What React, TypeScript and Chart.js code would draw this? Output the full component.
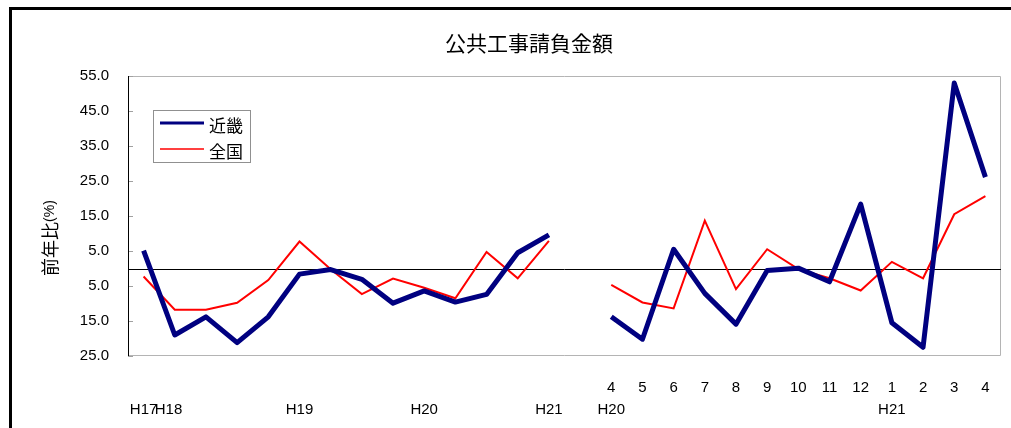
import React, { useEffect, useRef } from "react";
import { Chart, registerables } from "chart.js";

Chart.register(...registerables);

// Category rows (two-line x labels)
const monthRow = ["", "", "", "", "", "", "", "", "", "", "", "", "", "", "", "4", "5", "6", "7", "8", "9", "10", "11", "12", "1", "2", "3", "4"];
const yearRow = ["H17", "H18   ", "", "", "", "H19", "", "", "", "H20", "", "", "", "H21", "", "H20", "", "", "", "", "", "", "", "", "H21", "", "", ""];

// Series values (前年比 %)
const kinki = [5.1, -19.0, -13.8, -21.2, -13.8, -1.6, -0.3, -3.1, -9.9, -6.4, -9.6, -7.4, 4.5, 9.6, null, -13.8, -20.2, 5.5, -7.1, -15.9, -0.6, 0.1, -3.8, 18.4, -15.5, -22.5, 53.0, 26.1];
const zenkoku = [-2.3, -11.8, -11.8, -9.8, -3.3, 7.7, -0.2, -7.3, -2.9, -5.5, -8.5, 4.7, -2.8, 7.9, null, -4.7, -9.7, -11.4, 13.7, -5.9, 5.5, -0.2, -2.8, -6.3, 1.9, -2.8, 15.5, 20.7];

// Y tick values
const yTicks = [-25, -15, -5, 5, 15, 25, 35, 45, 55];

const seriesNames = ["近畿", "全国"];
const seriesColors = ["#000080", "#FF0000"];
const titleText = "公共工事請負金額";
const yTitleMain = "前年比";
const yTitleUnit = "(%)";

const CJK = '"Noto Sans CJK JP", "Noto Sans CJK SC", sans-serif';
const LATIN = '"Liberation Sans", Arial, sans-serif';

const decorPlugin = {
  id: "decor",
  beforeDraw(chart: any) {
    const { ctx } = chart;
    ctx.save();
    ctx.fillStyle = "#000";
    ctx.fillRect(9, 7, 3, 430);
    ctx.fillRect(9, 7, 1010, 3);
    ctx.restore();
  },
  beforeDatasetsDraw(chart: any) {
    const { ctx, chartArea: a, scales } = chart;
    const y = scales.y;
    ctx.save();
    ctx.lineWidth = 1;
    ctx.strokeStyle = "#b4b4b4";
    ctx.beginPath();
    ctx.moveTo(a.left, a.top + 0.5);
    ctx.lineTo(Math.round(a.right) - 0.5, a.top + 0.5);
    ctx.lineTo(Math.round(a.right) - 0.5, Math.round(a.bottom) - 0.5);
    ctx.lineTo(a.left, Math.round(a.bottom) - 0.5);
    ctx.stroke();
    // small inner ticks
    ctx.strokeStyle = "#a0a0a0";
    yTicks.forEach((v) => {
      const py = Math.round(y.getPixelForValue(v)) + 0.5;
      ctx.beginPath();
      ctx.moveTo(a.left, py);
      ctx.lineTo(a.left + 5, py);
      ctx.stroke();
    });
    // left axis
    ctx.strokeStyle = "#000";
    ctx.beginPath();
    ctx.moveTo(Math.round(a.left) + 0.5, a.top);
    ctx.lineTo(Math.round(a.left) + 0.5, a.bottom);
    ctx.stroke();
    // zero line
    const zy = Math.round(y.getPixelForValue(0)) + 0.5;
    ctx.beginPath();
    ctx.moveTo(a.left, zy);
    ctx.lineTo(a.right, zy);
    ctx.stroke();
    ctx.restore();
  },
  afterDraw(chart: any) {
    const { ctx } = chart;
    ctx.save();
    // title
    ctx.fillStyle = "#000";
    ctx.font = `21px ${CJK}`;
    ctx.textAlign = "center";
    ctx.textBaseline = "middle";
    ctx.fillText(titleText, 529, 43);

    // y axis title (rotated)
    ctx.save();
    ctx.translate(50, 238);
    ctx.rotate(-Math.PI / 2);
    ctx.font = `18px ${CJK}`;
    const w1 = ctx.measureText(yTitleMain).width;
    ctx.font = `14px ${LATIN}`;
    const w2 = ctx.measureText(yTitleUnit).width;
    const start = -(w1 + w2) / 2;
    ctx.textAlign = "left";
    ctx.font = `18px ${CJK}`;
    ctx.fillText(yTitleMain, start, 0);
    ctx.font = `14px ${LATIN}`;
    ctx.fillText(yTitleUnit, start + w1, 0);
    ctx.restore();

    // legend
    ctx.strokeStyle = "#909090";
    ctx.lineWidth = 1;
    ctx.strokeRect(153.5, 110.5, 97, 52);
    const rows = [
      { y: 123, w: 3, t: 126 },
      { y: 149, w: 1.5, t: 151.5 },
    ];
    rows.forEach((r, i) => {
      ctx.strokeStyle = seriesColors[i];
      ctx.lineWidth = r.w;
      ctx.beginPath();
      ctx.moveTo(160, r.y);
      ctx.lineTo(204, r.y);
      ctx.stroke();
      ctx.fillStyle = "#000";
      ctx.font = `17px ${CJK}`;
      ctx.textAlign = "left";
      ctx.textBaseline = "middle";
      ctx.fillText(seriesNames[i], 209, r.t);
    });
    ctx.restore();
  },
};

export default function App() {
  const ref = useRef<HTMLCanvasElement | null>(null);
  useEffect(() => {
    if (!ref.current) return;
    const labels = monthRow.map((m, i) => [m, yearRow[i]]);
    const chart = new Chart(ref.current, {
      type: "line",
      data: {
        labels,
        datasets: [
          {
            label: seriesNames[0],
            data: kinki,
            borderColor: seriesColors[0],
            backgroundColor: seriesColors[0],
            borderWidth: 5,
            borderJoinStyle: "round",
            pointRadius: 0,
            pointHoverRadius: 0,
            tension: 0,
            spanGaps: false,
          },
          {
            label: seriesNames[1],
            data: zenkoku,
            borderColor: seriesColors[1],
            backgroundColor: seriesColors[1],
            borderWidth: 2,
            pointRadius: 0,
            pointHoverRadius: 0,
            tension: 0,
            spanGaps: false,
          },
        ],
      },
      options: {
        animation: false,
        responsive: false,
        maintainAspectRatio: false,
        layout: { padding: { top: 76, right: 10, bottom: 0, left: 0 } },
        plugins: {
          legend: { display: false },
          title: { display: false },
          tooltip: { enabled: false },
        },
        scales: {
          x: {
            type: "category",
            offset: true,
            grid: { display: false, drawTicks: false },
            border: { display: false },
            ticks: {
              autoSkip: false,
              maxRotation: 0,
              minRotation: 0,
              padding: 21,
              color: "#000",
              font: { family: LATIN, size: 15, lineHeight: 22 / 15 },
            },
            afterFit: (s: any) => {
              s.height = 72;
            },
          },
          y: {
            min: -25,
            max: 55,
            grid: { display: false, drawTicks: false },
            border: { display: false },
            afterBuildTicks: (s: any) => {
              s.ticks = yTicks.map((v) => ({ value: v }));
            },
            ticks: {
              padding: 19,
              color: "#000",
              font: { family: LATIN, size: 15 },
              callback: (v: any) => Math.abs(Number(v)).toFixed(1),
            },
            afterFit: (s: any) => {
              s.width = 128;
            },
          },
        },
      },
      plugins: [decorPlugin],
    });
    return () => chart.destroy();
  }, []);
  return (
    <div style={{ position: "fixed", left: 0, top: 0, width: 1011, height: 428, background: "#fff" }}>
      <canvas ref={ref} width={1011} height={428} style={{ width: 1011, height: 428, display: "block" }} />
    </div>
  );
}
